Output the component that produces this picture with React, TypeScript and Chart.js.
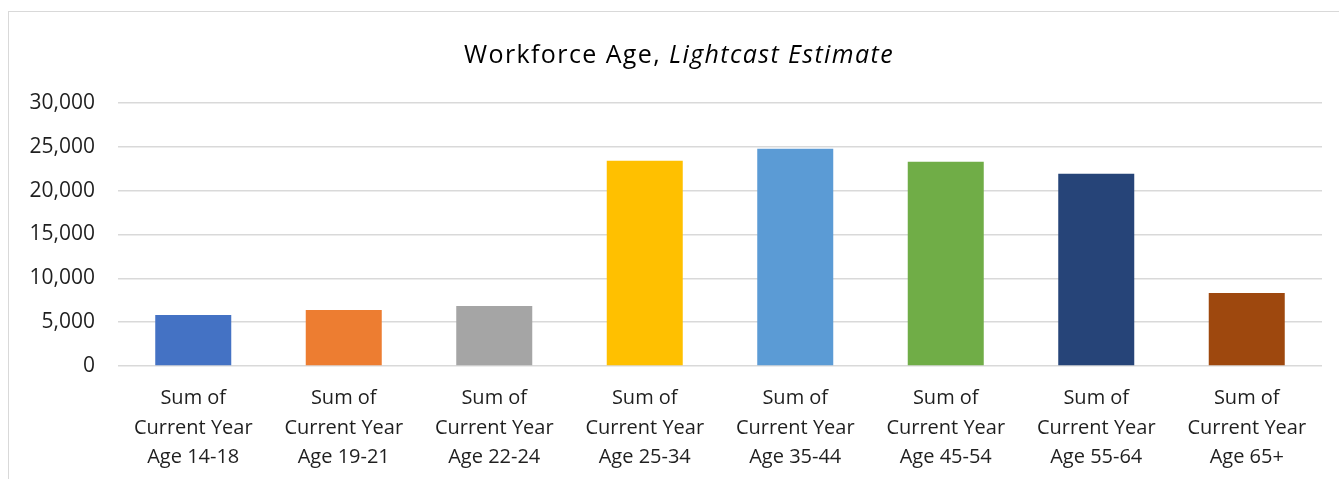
import React, { useEffect, useRef } from "react";
import { Chart, registerables } from "chart.js";

Chart.register(...registerables);

const categories: string[][] = [
  ["Sum of", "Current Year", "Age 14-18"],
  ["Sum of", "Current Year", "Age 19-21"],
  ["Sum of", "Current Year", "Age 22-24"],
  ["Sum of", "Current Year", "Age 25-34"],
  ["Sum of", "Current Year", "Age 35-44"],
  ["Sum of", "Current Year", "Age 45-54"],
  ["Sum of", "Current Year", "Age 55-64"],
  ["Sum of", "Current Year", "Age 65+"],
];
const workforce: number[] = [5820, 6390, 6850, 23400, 24780, 23290, 21920, 8330];
const barColors: string[] = [
  "#4472C4",
  "#ED7D31",
  "#A5A5A5",
  "#FFC000",
  "#5B9BD5",
  "#70AD47",
  "#264478",
  "#9E480E",
];
const yMin = 0;
const yMax = 30000;
const yStep = 5000;

const FONT = "'Open Sans', Roboto, 'Liberation Sans', sans-serif";

export default function App() {
  const canvasRef = useRef<HTMLCanvasElement | null>(null);

  useEffect(() => {
    const canvas = canvasRef.current;
    if (!canvas) return;
    const chart = new Chart(canvas, {
      type: "bar",
      data: {
        labels: categories,
        datasets: [
          {
            label: "Workforce",
            data: workforce,
            backgroundColor: barColors,
            borderWidth: 0,
            categoryPercentage: 1,
            barPercentage: 0.505,
          },
        ],
      },
      options: {
        animation: false,
        responsive: false,
        maintainAspectRatio: false,
        layout: { padding: { top: 91, right: 17, left: 0, bottom: 0 } },
        plugins: {
          legend: { display: false },
          tooltip: { enabled: false },
          title: { display: false },
        },
        scales: {
          x: {
            grid: { display: false, drawTicks: false },
            border: { display: false },
            ticks: {
              color: "#1f1f1f",
              font: { family: FONT, size: 20, lineHeight: 1.475 },
              padding: 18,
              maxRotation: 0,
              autoSkip: false,
            },
            afterFit: (scale: any) => {
              scale.height = 113;
            },
          },
          y: {
            min: yMin,
            max: yMax,
            grid: { color: "#d9d9d9", lineWidth: 1.5, drawTicks: false },
            border: { display: false },
            ticks: {
              stepSize: yStep,
              color: "#1f1f1f",
              font: { family: FONT, size: 21 },
              padding: 23,
              callback: (v: any) => Number(v).toLocaleString("en-US"),
            },
            afterFit: (scale: any) => {
              scale.width = 109;
            },
          },
        },
      },
    });
    return () => chart.destroy();
  }, []);

  return (
    <div
      style={{
        position: "absolute",
        left: 8,
        top: 11,
        width: 1331,
        height: 468,
        borderTop: "1px solid #d9d9d9",
        borderLeft: "1px solid #d9d9d9",
        boxSizing: "border-box",
        overflow: "hidden",
        background: "#fff",
      }}
    >
      <canvas
        ref={canvasRef}
        width={1330}
        height={467}
        style={{ position: "absolute", left: 0, top: 0, width: 1330, height: 467 }}
      />
      <div
        style={{
          position: "absolute",
          left: 10,
          top: 23,
          width: 1320,
          textAlign: "center",
          fontFamily: FONT,
          fontSize: 25,
          letterSpacing: "1.4px",
          color: "#000",
          lineHeight: "36px",
          whiteSpace: "nowrap",
        }}
      >
        Workforce Age, <i>Lightcast Estimate</i>
      </div>
    </div>
  );
}
